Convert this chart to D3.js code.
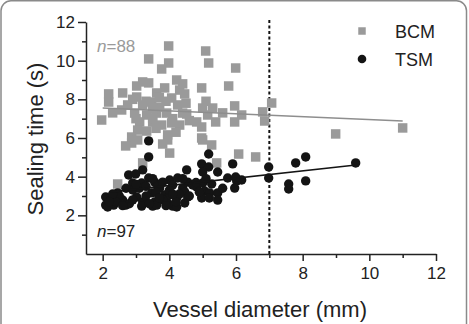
<!DOCTYPE html>
<html>
<head>
<meta charset="utf-8">
<script src="https://cdn.jsdelivr.net/npm/d3@7"></script>
<style>
  html, body { margin: 0; padding: 0; background: #fff; }
  svg { display: block; font-family: "Liberation Sans", Arial, sans-serif; }
</style>
</head>
<body>
<div id="chart"></div>
<script>
// values: [diameter mm, sealing time s]
const bcm = [
  [3.98,10.76],[3.38,10.09],[3.98,9.88],[3.77,9.57],[4.22,9.00],[3.38,8.85],[3.02,8.69],[3.20,8.90],
  [2.18,8.28],[2.60,8.33],[2.18,7.86],[3.86,8.59],[4.31,8.48],[3.62,8.33],[4.07,8.07],[3.02,8.12],
  [2.75,7.71],[3.20,7.71],[3.47,7.86],[3.71,7.60],[4.25,7.71],[2.57,7.45],[2.96,7.29],[3.32,7.19],
  [3.62,7.29],[3.92,7.29],[4.40,7.29],[1.97,6.93],[3.11,6.83],[3.50,6.83],[3.77,6.67],[4.07,6.78],
  [4.31,6.67],[3.05,6.41],[3.95,6.16],[2.87,6.05],
  [5.09,10.50],[5.18,9.88],[5.99,9.62],[4.97,8.59],[5.78,8.69],[4.46,8.28],[7.07,7.81],[5.96,7.66],
  [5.00,7.55],[5.30,7.55],[5.15,7.19],[4.52,7.24],[6.17,7.19],[6.80,7.35],[4.82,6.83],[4.97,6.57],
  [5.39,6.83],[5.96,6.83],[6.86,6.88],[4.97,6.00],[8.99,6.21],[11.0,6.52],
  [6.08,5.17],[6.59,5.02],[5.42,4.71],[4.01,5.22],[3.80,5.69],[5.00,5.90],[5.27,5.64],[2.87,5.74],
  [3.05,5.90],[3.95,5.90],[3.20,4.71],[2.45,3.62],[2.69,5.59],[3.32,6.36],[3.50,7.04],
  [3.50,7.50],[3.90,7.90],[4.10,7.00],[3.30,7.90],[2.90,8.00],[4.50,7.80],[3.70,8.10],[2.30,7.30],
  [5.10,7.90],[4.60,6.90],[3.60,6.50],[4.20,6.30],[5.60,7.30],[3.00,7.00],[4.40,8.80]
];
const tsm = [
  [3.38,5.85],[3.38,5.02],[3.20,4.35],[2.78,4.09],[2.99,4.14],[3.38,3.93],[2.90,3.67],[3.17,3.67],
  [3.56,3.72],[4.01,3.83],[4.25,3.93],[4.52,4.35],[2.09,2.95],[2.24,2.79],[2.09,2.53],[2.33,2.53],
  [2.60,2.79],[2.69,2.53],[2.90,3.31],[3.02,2.95],[3.20,2.69],[3.17,2.48],[3.47,3.16],[3.56,2.69],
  [3.50,2.48],[3.71,3.41],[3.86,3.05],[3.95,2.64],[4.22,2.90],[4.10,2.48],[4.40,3.41],[4.46,2.64],
  [2.45,3.16],[3.65,3.57],[2.15,2.43],[5.18,5.17],[4.97,4.66],[5.18,4.50],[5.00,4.24],[5.90,4.66],
  [5.45,4.24],[4.55,3.72],[4.82,3.47],[5.00,3.67],[5.27,3.62],[5.06,3.26],[4.55,2.95],[4.97,2.90],
  [5.21,3.16],[5.45,3.16],[5.45,2.79],[5.75,3.93],[6.02,3.78],[5.96,3.41],[6.17,3.83],[6.98,4.50],
  [6.98,3.93],[7.79,4.71],[8.09,5.02],[7.58,3.62],[7.58,3.36],[8.09,3.78],[9.59,4.71],[3.80,3.72],
  [4.70,3.57],[4.46,3.21],[4.01,3.05],[3.62,2.53],[4.22,2.43],[5.99,3.98],[4.10,3.57],
  [2.50,3.00],[2.80,2.60],[3.30,3.00],[3.10,3.40],[3.80,2.80],[4.30,3.10],[2.40,2.70],[3.60,3.20],
  [4.00,3.30],[4.60,3.00],[2.70,3.40],[3.40,2.60],[4.20,2.70],[5.10,3.90],[2.30,3.10],[3.00,3.60],
  [3.90,2.50],[4.80,3.70],[5.20,2.90],[2.60,2.50],[3.30,3.50],[4.40,3.90],[3.70,2.90],[2.90,2.80],
  [4.90,3.20],[5.60,3.40],[3.50,3.90],[2.20,2.70],[4.10,3.10]
];
const bcmFit = [[2.0, 7.55], [11.0, 6.88]];
const tsmFit = [[2.2, 3.20], [9.6, 4.60]];
const cutoff = 7;
const xTicks = [2, 4, 6, 8, 10, 12];
const xMinor = [3, 5, 7, 9, 11];
const yTicks = [2, 4, 6, 8, 10, 12];
const yMinor = [1, 3, 5, 7, 9, 11];
const seriesNames = ["BCM", "TSM"];
const nLabels = ["88", "97"];

const width = 469, height = 324;
const grey = "#9a9a9a", black = "#141414";

const x = d3.scaleLinear().domain([1.5, 12]).range([86, 436]);
const y = d3.scaleLinear().domain([0, 12]).range([254, 22]);

const svg = d3.select("#chart").append("svg")
  .attr("width", width)
  .attr("height", height);

// figure frame
svg.append("rect")
  .attr("x", 1).attr("y", 0.75)
  .attr("width", 465.5).attr("height", 345)
  .attr("rx", 10)
  .attr("fill", "none")
  .attr("stroke", "#8a8a8a")
  .attr("stroke-width", 1.5);

// cutoff line
svg.append("line")
  .attr("x1", x(cutoff)).attr("x2", x(cutoff))
  .attr("y1", y(0)).attr("y2", y(12.1))
  .attr("stroke", "#111")
  .attr("stroke-width", 2)
  .attr("stroke-dasharray", "3,2.5");

const square = d3.symbol(d3.symbolSquare, 90);

svg.append("g")
  .selectAll("path")
  .data(bcm)
  .join("path")
  .attr("d", square)
  .attr("transform", d => `translate(${x(d[0])},${y(d[1])})`)
  .attr("fill", grey);

svg.append("g")
  .selectAll("circle")
  .data(tsm)
  .join("circle")
  .attr("cx", d => x(d[0]))
  .attr("cy", d => y(d[1]))
  .attr("r", 4.7)
  .attr("fill", black);

const line = d3.line().x(d => x(d[0])).y(d => y(d[1]));
svg.append("path").attr("d", line(bcmFit))
  .attr("fill", "none").attr("stroke", "#8e8e8e").attr("stroke-width", 1.6);
svg.append("path").attr("d", line(tsmFit))
  .attr("fill", "none").attr("stroke", black).attr("stroke-width", 1.6);

// axes
function styleAxis(g) {
  g.selectAll(".domain, line").attr("stroke", "#222").attr("stroke-width", 1.5);
  g.selectAll("text").attr("fill", "#222").attr("font-size", 17)
    .attr("font-family", "'Liberation Sans', Arial, sans-serif");
}

svg.append("g")
  .attr("transform", `translate(0,${y(0)})`)
  .call(d3.axisBottom(x).tickValues(xMinor).tickSize(4).tickSizeOuter(0).tickFormat(""))
  .call(styleAxis);
svg.append("g")
  .attr("transform", `translate(0,${y(0)})`)
  .call(d3.axisBottom(x).tickValues(xTicks).tickSize(7).tickSizeOuter(0).tickPadding(6))
  .call(styleAxis)
  .call(g => g.select(".domain").remove());

svg.append("g")
  .attr("transform", `translate(${x(1.5)},0)`)
  .call(d3.axisLeft(y).tickValues(yMinor).tickSize(4).tickSizeOuter(0).tickFormat(""))
  .call(styleAxis);
svg.append("g")
  .attr("transform", `translate(${x(1.5)},0)`)
  .call(d3.axisLeft(y).tickValues(yTicks).tickSize(8).tickSizeOuter(0).tickPadding(3))
  .call(styleAxis)
  .call(g => g.select(".domain").remove());

// axis titles
svg.append("text")
  .attr("x", 260).attr("y", 317)
  .attr("text-anchor", "middle")
  .attr("font-size", 22)
  .attr("fill", "#222")
  .text("Vessel diameter (mm)");

svg.append("text")
  .attr("transform", "translate(43,139) rotate(-90)")
  .attr("text-anchor", "middle")
  .attr("font-size", 22)
  .attr("fill", "#222")
  .text("Sealing time (s)");

// n labels
const nText = (yy, col, val) => {
  const t = svg.append("text").attr("x", 97).attr("y", yy)
    .attr("font-size", 17).attr("fill", col);
  t.append("tspan").attr("font-style", "italic").text("n");
  t.append("tspan").text("=" + val);
};
nText(52, grey, nLabels[0]);
nText(237, "#222", nLabels[1]);

// legend
const legend = svg.append("g");
legend.append("path")
  .attr("d", d3.symbol(d3.symbolSquare, 56))
  .attr("transform", "translate(362,31)")
  .attr("fill", grey);
legend.append("circle")
  .attr("cx", 362).attr("cy", 59).attr("r", 4.3)
  .attr("fill", black);
legend.selectAll("text")
  .data(seriesNames)
  .join("text")
  .attr("x", 395)
  .attr("y", (d, i) => 38 + i * 28)
  .attr("font-size", 18)
  .attr("fill", "#222")
  .text(d => d);
</script>
</body>
</html>
